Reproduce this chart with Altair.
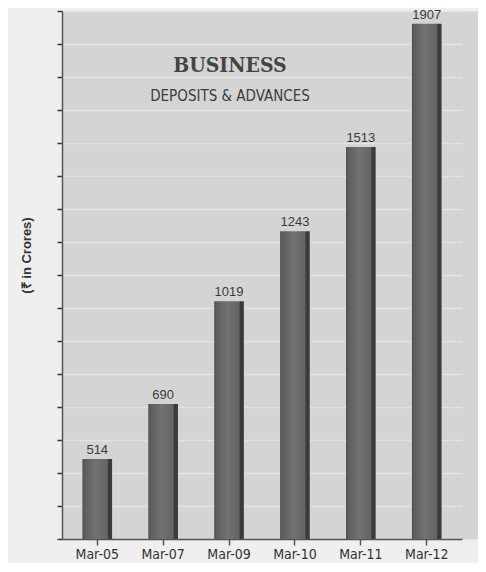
import altair as alt
import pandas as pd

categories = ["Mar-05", "Mar-07", "Mar-09", "Mar-10", "Mar-11", "Mar-12"]
values = [514, 690, 1019, 1243, 1513, 1907]
title_text = ["BUSINESS"]
subtitle_text = ["DEPOSITS & ADVANCES"]
y_axis_title = "(₹ in Crores)"

Y_MIN, Y_MAX = 258, 1948
N_TICKS = 16
tick_values = [Y_MIN + (Y_MAX - Y_MIN) * k / N_TICKS for k in range(N_TICKS + 1)]

NARROW = "Liberation Sans Narrow, DejaVu Sans Condensed, Arial Narrow, sans-serif"
SANS = "Liberation Sans, Arial, sans-serif"

df = pd.DataFrame({"period": categories, "value": values})

x_enc = alt.X(
    "period:N", sort=categories, title=None,
    scale=alt.Scale(paddingInner=0.55, paddingOuter=0.31, rangeMax=400),
    axis=alt.Axis(labelAngle=0, labelFont=NARROW, labelFontSize=14, labelColor="#333333",
                  labelPadding=2, tickSize=6, tickColor="#555555", tickWidth=1.5,
                  domainColor="#555555", domainWidth=1.5, grid=False),
)
y_enc = alt.Y(
    "value:Q",
    scale=alt.Scale(domain=[Y_MIN, Y_MAX], zero=False, nice=False),
    axis=alt.Axis(values=tick_values, labels=False, tickSize=5, tickColor="#333333",
                  tickWidth=1.5, domainColor="#555555", domainWidth=1.5, grid=True,
                  gridColor="#e3e3e3", gridWidth=1.3, title=y_axis_title,
                  titleFont=SANS, titleFontSize=13, titleFontWeight="bold",
                  titleColor="#333333", titleX=-36, titleY=244, titleAngle=270,
                  titleAlign="center", titleBaseline="middle"),
)

bar_fill = alt.Gradient(
    gradient="linear", x1=0, x2=1, y1=0, y2=0,
    stops=[
        alt.GradientStop(color="#4e4e4e", offset=0),
        alt.GradientStop(color="#5e5e5e", offset=0.08),
        alt.GradientStop(color="#727272", offset=0.45),
        alt.GradientStop(color="#646464", offset=0.84),
        alt.GradientStop(color="#3a3a3a", offset=0.87),
        alt.GradientStop(color="#3c3c3c", offset=1),
    ],
)

base = alt.Chart(df)
bars = base.mark_bar(color=bar_fill).encode(x=x_enc, y=y_enc, y2=alt.datum(Y_MIN))
labels = base.mark_text(baseline="bottom", dy=-2, font=SANS, fontSize=13,
                        color="#3a3a3a").encode(x=x_enc, y=y_enc, text="value:Q")

title_mark = alt.Chart(pd.DataFrame({"t": title_text})).mark_text(
    font="DejaVu Serif Condensed, DejaVu Serif, serif", fontSize=21, fontWeight="bold",
    color="#444444", align="center", baseline="middle",
).encode(x=alt.value(168), y=alt.value(55), text="t:N")

subtitle_mark = alt.Chart(pd.DataFrame({"t": subtitle_text})).mark_text(
    font=NARROW, fontSize=15, color="#3c3c3c", align="center", baseline="middle",
).encode(x=alt.value(168), y=alt.value(85), text="t:N")

chart = alt.layer(bars, labels, title_mark, subtitle_mark).properties(
    width=416, height=528,
    autosize=alt.AutoSizeParams(type="none"),
    padding={"left": 54, "top": 3, "right": 0, "bottom": 24},
).configure(background="#efefef").configure_view(fill="#d4d4d4", stroke="transparent")

chart.save("out.html", embed_options={"renderer": "svg", "actions": False})
